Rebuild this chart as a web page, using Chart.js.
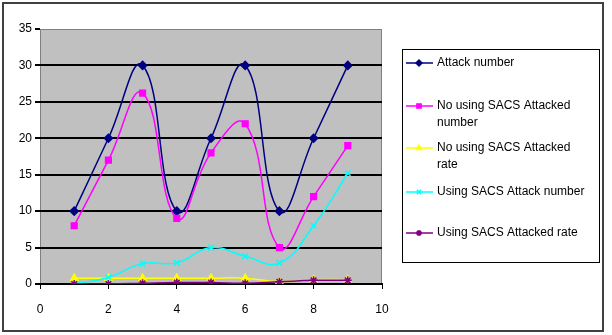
<!DOCTYPE html>
<html>
<head>
<meta charset="utf-8">
<script src="https://cdn.jsdelivr.net/npm/chart.js@4"></script>
<style>
  html, body { margin: 0; padding: 0; background: #fff; }
  #wrap { position: relative; width: 612px; height: 335px; }
</style>
</head>
<body>
<div id="wrap"><canvas id="lineChart" width="612" height="335"></canvas></div>
<script>
// x positions (runs)
const runs = [1, 2, 3, 4, 5, 6, 7, 8, 9];

// series
const attackNumber = [10, 20, 30, 10, 20, 30, 10, 20, 30];
const noSacsAttacked = [8, 17, 26.2, 9, 18, 22, 5, 12, 19];
const noSacsRate = [0.8, 0.8, 0.8, 0.8, 0.8, 0.8, 0.3, 0.6, 0.6];
const sacsAttackNumber = [0, 0.9, 2.8, 2.9, 5, 3.8, 2.9, 8, 15.2];
const sacsRate = [0, 0, 0.1, 0.2, 0.2, 0.1, 0.3, 0.5, 0.5];

const seriesNames = [
  ["Attack number"],
  ["No using SACS Attacked", "number"],
  ["No using SACS Attacked", "rate"],
  ["Using SACS Attack number"],
  ["Using SACS Attacked rate"]
];

const xTicks = [0, 2, 4, 6, 8, 10];
const yTicks = [0, 5, 10, 15, 20, 25, 30, 35];

function pts(vals) {
  return vals.map((v, i) => ({ x: runs[i], y: v }));
}

// gray plot area + outer frame
const backdrop = {
  id: "backdrop",
  beforeDraw(chart) {
    const c = chart.ctx, a = chart.chartArea;
    c.save();
    c.fillStyle = "#fff";
    c.fillRect(0, 0, chart.width, chart.height);
    c.fillStyle = "#c0c0c0";
    c.fillRect(a.left, a.top, a.right - a.left, a.bottom - a.top);
    c.strokeStyle = "#808080";
    c.lineWidth = 1;
    c.strokeRect(a.left + 0.5, a.top + 0.5, a.right - a.left - 1, a.bottom - a.top);
    c.restore();
  },
  afterDraw(chart) {
    const c = chart.ctx;
    c.save();
    c.strokeStyle = "#404040";
    c.lineWidth = 2;
    c.strokeRect(3, 3, 600, 328);
    c.restore();
  }
};

// Excel-style legend box on the right
const boxLegend = {
  id: "boxLegend",
  afterDraw(chart) {
    const c = chart.ctx;
    const rows = [63, 106, 148, 192, 233];
    c.save();
    c.strokeStyle = "#000";
    c.lineWidth = 1;
    c.strokeRect(402.5, 49.5, 197, 213);
    c.font = "12px 'Liberation Sans', Arial, sans-serif";
    c.textBaseline = "middle";
    chart.data.datasets.forEach((ds, i) => {
      const y = rows[i];
      c.strokeStyle = ds.borderColor;
      c.fillStyle = ds.borderColor;
      c.lineWidth = 1.5;
      c.beginPath();
      c.moveTo(406, y);
      c.lineTo(433, y);
      c.stroke();
      Chart.helpers.drawPoint(c, {
        pointStyle: ds.pointStyle,
        radius: 3,
        rotation: 0,
        borderWidth: 1.5
      }, 419, y);
      c.fillStyle = "#000";
      seriesNames[i].forEach((t, k) => c.fillText(t, 437, y + k * 17));
    });
    c.restore();
  }
};

function dataset(label, vals, color, style, radius, order) {
  return {
    label: label,
    data: pts(vals),
    borderColor: color,
    backgroundColor: color,
    pointBackgroundColor: color,
    pointBorderColor: color,
    pointStyle: style,
    pointRadius: radius,
    pointBorderWidth: 1.5,
    borderWidth: 1.5,
    tension: 0.45,
    order: order
  };
}

document.addEventListener("DOMContentLoaded", function () {
  const ctx = document.getElementById("lineChart");
  new Chart(ctx, {
    type: "line",
    data: {
      datasets: [
        dataset(seriesNames[0].join(" "), attackNumber, "#000080", "rectRot", 4, 2),
        dataset(seriesNames[1].join(" "), noSacsAttacked, "#ff00ff", "rect", 4, 1),
        dataset(seriesNames[2].join(" "), noSacsRate, "#ffff00", "triangle", 4, 4),
        dataset(seriesNames[3].join(" "), sacsAttackNumber, "#00ffff", "crossRot", 4, 3),
        dataset(seriesNames[4].join(" "), sacsRate, "#800080", "star", 4, 0)
      ]
    },
    options: {
      responsive: false,
      animation: false,
      layout: { padding: { top: 29, right: 230, left: 0, bottom: 0 } },
      plugins: { legend: { display: false }, tooltip: { enabled: false } },
      scales: {
        x: {
          type: "linear",
          min: 0,
          max: 10,
          afterBuildTicks: s => { s.ticks = xTicks.map(v => ({ value: v })); },
          afterFit: s => { s.height = 51; },
          border: { color: "#000", width: 2 },
          grid: { drawOnChartArea: false, tickLength: 5, tickColor: "#000" },
          ticks: {
            color: "#000",
            padding: 13,
            font: { family: "'Liberation Sans', Arial, sans-serif", size: 12 }
          }
        },
        y: {
          min: 0,
          max: 35,
          afterBuildTicks: s => { s.ticks = yTicks.map(v => ({ value: v })); },
          afterFit: s => { s.width = 40; },
          border: { display: false },
          grid: {
            color: c => (c.tick && (c.tick.value === 0 || c.tick.value === 35)) ? "rgba(0,0,0,0)" : "#000",
            lineWidth: 2,
            tickLength: 5,
            tickColor: "#000"
          },
          ticks: {
            color: "#000",
            padding: 3,
            font: { family: "'Liberation Sans', Arial, sans-serif", size: 12 }
          }
        }
      }
    },
    plugins: [backdrop, boxLegend]
  });
});
</script>
</body>
</html>
